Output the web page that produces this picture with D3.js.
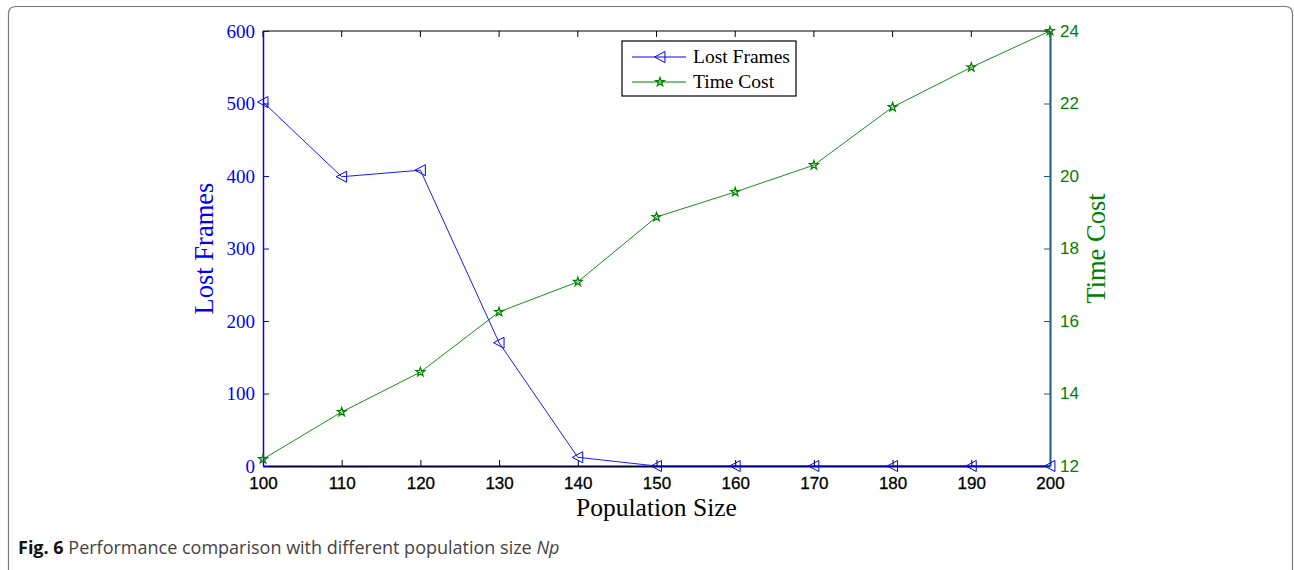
<!DOCTYPE html>
<html>
<head>
<meta charset="utf-8">
<script src="https://cdn.jsdelivr.net/npm/d3@7"></script>
<style>
  body { margin: 0; background: #fff; }
  svg { display: block; }
</style>
</head>
<body>
<svg id="chart" width="1294" height="570"></svg>
<script>
const populationSizes = [100, 110, 120, 130, 140, 150, 160, 170, 180, 190, 200];
const lostFrames = [502, 399, 408, 170, 12, 0, 0, 0, 0, 0, 0];
const timeCost = [12.19, 13.49, 14.59, 16.25, 17.08, 18.87, 19.56, 20.3, 21.9, 23.0, 24.0];
const leftTicks = [0, 100, 200, 300, 400, 500, 600];
const rightTicks = [12, 14, 16, 18, 20, 22, 24];

const width = 1294;
const height = 570;
const marginLeft = 263;
const marginRight = 1050;
const marginTop = 31;
const marginBottom = 466;

const blue = "#0000ff";
const green = "#008000";
const serif = "'Liberation Serif', 'Times New Roman', serif";
const sans = "'Liberation Sans', Arial, sans-serif";

const svg = d3.select("#chart");

// outer frame (open at bottom)
svg.append("path")
    .attr("d", `M8.5,${height} L8.5,14 Q8.5,6.5 16,6.5 L1285,6.5 Q1292.5,6.5 1292.5,14 L1292.5,${height}`)
    .attr("fill", "none")
    .attr("stroke", "#777")
    .attr("stroke-width", 1.2);

const x = d3.scaleLinear().domain([100, 200]).range([marginLeft, marginRight]);
const yL = d3.scaleLinear().domain([0, 600]).range([marginBottom, marginTop]);
const yR = d3.scaleLinear().domain([12, 24]).range([marginBottom, marginTop]);

// top border with small ticks
svg.append("line")
    .attr("x1", marginLeft).attr("x2", marginRight)
    .attr("y1", marginTop).attr("y2", marginTop)
    .attr("stroke", "#000").attr("stroke-width", 1.2);
svg.append("g").selectAll("line")
    .data(populationSizes)
    .join("line")
    .attr("x1", d => x(d)).attr("x2", d => x(d))
    .attr("y1", marginTop).attr("y2", marginTop + 6)
    .attr("stroke", "#000");

// bottom axis
const gx = svg.append("g")
    .attr("transform", `translate(0,${marginBottom})`)
    .call(d3.axisBottom(x).tickValues(populationSizes).tickSize(-6).tickPadding(11).tickSizeOuter(0));
gx.select(".domain").attr("stroke", "#000033").attr("stroke-width", 2);
gx.selectAll(".tick line").attr("stroke", "#000");
gx.selectAll(".tick text")
    .attr("font-family", sans).attr("font-size", 17).attr("fill", "#000")
    .attr("stroke", "#000").attr("stroke-width", 0.3);

// left axis
const gyL = svg.append("g")
    .attr("transform", `translate(${marginLeft},0)`)
    .call(d3.axisLeft(yL).tickValues(leftTicks).tickSize(-6).tickPadding(8).tickSizeOuter(0));
gyL.select(".domain").attr("stroke", blue).attr("stroke-width", 1.5);
gyL.selectAll(".tick line").attr("stroke", blue);
gyL.selectAll(".tick text")
    .attr("font-family", serif).attr("font-size", 19).attr("fill", blue);

// right axis
const gyR = svg.append("g")
    .attr("transform", `translate(${marginRight},0)`)
    .call(d3.axisRight(yR).tickValues(rightTicks).tickSize(-6).tickPadding(10).tickSizeOuter(0));
gyR.select(".domain").attr("stroke", "#1b5e78").attr("stroke-width", 2);
gyR.selectAll(".tick line").attr("stroke", "#1b5e78");
gyR.selectAll(".tick text")
    .attr("font-family", sans).attr("font-size", 17).attr("fill", green);

// axis titles
svg.append("text")
    .attr("transform", `translate(213,${(marginTop + marginBottom) / 2}) rotate(-90)`)
    .attr("text-anchor", "middle")
    .attr("font-family", serif).attr("font-size", 26.5).attr("fill", blue)
    .text("Lost Frames");
svg.append("text")
    .attr("transform", `translate(1105,${(marginTop + marginBottom) / 2}) rotate(-90)`)
    .attr("text-anchor", "middle")
    .attr("font-family", serif).attr("font-size", 26.5).attr("fill", green)
    .text("Time Cost");
svg.append("text")
    .attr("x", (marginLeft + marginRight) / 2).attr("y", 516)
    .attr("text-anchor", "middle")
    .attr("font-family", serif).attr("font-size", 25.5).attr("fill", "#000")
    .text("Population Size");

// markers
const triPath = s => `M${-s},0 L${s * 0.9},${-s} L${s * 0.9},${s} Z`;
const starPath = d3.symbol().type(d3.symbolStar).size(24);

const lostData = populationSizes.map((p, i) => ({ p, v: lostFrames[i] }));
const timeData = populationSizes.map((p, i) => ({ p, v: timeCost[i] }));

svg.append("path")
    .datum(timeData)
    .attr("fill", "none").attr("stroke", green).attr("stroke-width", 0.9)
    .attr("d", d3.line().x(d => x(d.p)).y(d => yR(d.v)));
svg.append("g").selectAll("path")
    .data(timeData)
    .join("path")
    .attr("transform", d => `translate(${x(d.p)},${yR(d.v)})`)
    .attr("d", starPath)
    .attr("fill", "none").attr("stroke", green).attr("stroke-width", 1.2);

svg.append("path")
    .datum(lostData)
    .attr("fill", "none").attr("stroke", blue).attr("stroke-width", 0.9)
    .attr("d", d3.line().x(d => x(d.p)).y(d => yL(d.v)));
svg.append("g").selectAll("path")
    .data(lostData)
    .join("path")
    .attr("transform", d => `translate(${x(d.p)},${yL(d.v)})`)
    .attr("d", triPath(5.5))
    .attr("fill", "none").attr("stroke", blue).attr("stroke-width", 1);

// legend
const legend = svg.append("g").attr("transform", "translate(622,41)");
legend.append("rect")
    .attr("width", 174).attr("height", 55)
    .attr("fill", "#fff").attr("stroke", "#000").attr("stroke-width", 1.2);
const legendItems = [
    { name: "Lost Frames", color: blue, marker: "tri" },
    { name: "Time Cost", color: green, marker: "star" }
];
legendItems.forEach((it, i) => {
    const yy = 16 + i * 25;
    legend.append("line")
        .attr("x1", 10).attr("x2", 64).attr("y1", yy).attr("y2", yy)
        .attr("stroke", it.color).attr("stroke-width", 1);
    legend.append("path")
        .attr("transform", `translate(38,${yy})`)
        .attr("d", it.marker === "tri" ? triPath(5.5) : starPath())
        .attr("fill", "none").attr("stroke", it.color).attr("stroke-width", it.marker === "tri" ? 1 : 1.2);
    legend.append("text")
        .attr("x", 71).attr("y", yy + 6)
        .attr("font-family", serif).attr("font-size", 19.5).attr("fill", "#000")
        .text(it.name);
});

// caption
const cap = svg.append("text")
    .attr("x", 18).attr("y", 554)
    .attr("font-family", "'Open Sans', 'Noto Sans', sans-serif").attr("font-size", 18).attr("fill", "#444");
cap.append("tspan").attr("font-weight", "bold").attr("fill", "#111").text("Fig. 6");
cap.append("tspan").text(" Performance comparison with different population size ");
cap.append("tspan").attr("font-style", "italic").text("Np");
</script>
</body>
</html>
